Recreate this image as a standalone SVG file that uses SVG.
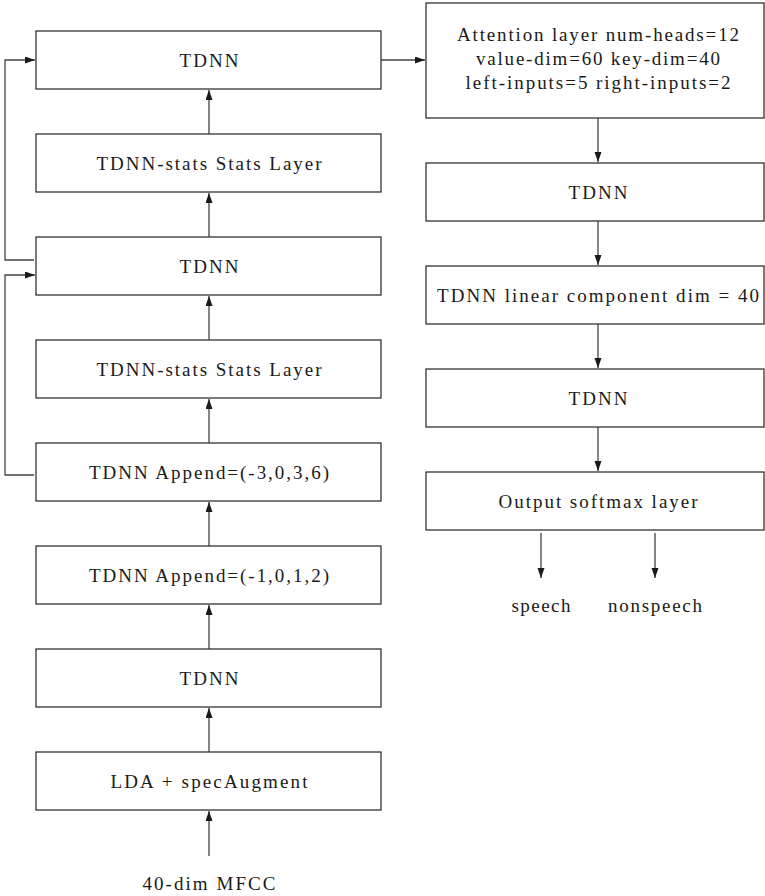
<svg xmlns="http://www.w3.org/2000/svg" width="765" height="896" viewBox="0 0 765 896">
<style>
.box{fill:#fff;stroke:#333;stroke-width:1.3}
.con{fill:none;stroke:#444;stroke-width:1.3}
text{font-family:"Liberation Serif","DejaVu Serif",serif;font-size:19px;fill:#1a1a1a;text-anchor:middle}
</style>
<defs>
<marker id="ah" markerUnits="userSpaceOnUse" markerWidth="10" markerHeight="8" refX="10" refY="3.5" orient="auto">
<path d="M0,0 L10,3.5 L0,7 z" fill="#1a1a1a"/>
</marker>
</defs>
<rect width="765" height="896" fill="#fff"/>
<g id="connectors">
<path class="con" d="M209,856 V811" marker-end="url(#ah)"/>
<path class="con" d="M209,752 V708" marker-end="url(#ah)"/>
<path class="con" d="M209,649 V605" marker-end="url(#ah)"/>
<path class="con" d="M209,546 V502" marker-end="url(#ah)"/>
<path class="con" d="M209,443 V399" marker-end="url(#ah)"/>
<path class="con" d="M209,340 V296" marker-end="url(#ah)"/>
<path class="con" d="M209,237 V193" marker-end="url(#ah)"/>
<path class="con" d="M209,134 V90" marker-end="url(#ah)"/>
<path class="con" d="M34,260 H5 V60 H35" marker-end="url(#ah)"/>
<path class="con" d="M34,475 H5 V275 H35" marker-end="url(#ah)"/>
<path class="con" d="M381,60 H425" marker-end="url(#ah)"/>
<path class="con" d="M598,118 V162" marker-end="url(#ah)"/>
<path class="con" d="M598,221 V265" marker-end="url(#ah)"/>
<path class="con" d="M598,324 V368" marker-end="url(#ah)"/>
<path class="con" d="M598,427 V471" marker-end="url(#ah)"/>
<path class="con" d="M541,533 V578" marker-end="url(#ah)"/>
<path class="con" d="M655,533 V578" marker-end="url(#ah)"/>
</g>
<g id="n_tdnn_top"><rect class="box" x="36" y="31" width="345" height="58"/><text x="209" y="67" textLength="59" lengthAdjust="spacing">TDNN</text></g>
<g id="n_stats1"><rect class="box" x="36" y="134" width="345" height="58"/><text x="209" y="170" textLength="225" lengthAdjust="spacing">TDNN-stats Stats Layer</text></g>
<g id="n_tdnn_mid"><rect class="box" x="36" y="237" width="345" height="58"/><text x="209" y="273" textLength="59" lengthAdjust="spacing">TDNN</text></g>
<g id="n_stats2"><rect class="box" x="36" y="340" width="345" height="58"/><text x="209" y="376" textLength="225" lengthAdjust="spacing">TDNN-stats Stats Layer</text></g>
<g id="n_append3"><rect class="box" x="36" y="443" width="345" height="58"/><text x="209" y="479" textLength="240" lengthAdjust="spacing">TDNN Append=(-3,0,3,6)</text></g>
<g id="n_append1"><rect class="box" x="36" y="546" width="345" height="58"/><text x="209" y="582" textLength="240" lengthAdjust="spacing">TDNN Append=(-1,0,1,2)</text></g>
<g id="n_tdnn_low"><rect class="box" x="36" y="649" width="345" height="58"/><text x="209" y="685" textLength="59" lengthAdjust="spacing">TDNN</text></g>
<g id="n_lda"><rect class="box" x="36" y="752" width="345" height="58"/><text x="209" y="788" textLength="197" lengthAdjust="spacing">LDA + specAugment</text></g>
<g id="n_input"><text x="209" y="890" textLength="133" lengthAdjust="spacing">40-dim MFCC</text></g>
<g id="n_attention"><rect class="box" x="426" y="3" width="338" height="115"/>
<text x="598" y="41" textLength="282" lengthAdjust="spacing">Attention layer num-heads=12</text>
<text x="598" y="65" textLength="244" lengthAdjust="spacing">value-dim=60 key-dim=40</text>
<text x="598" y="89" textLength="265" lengthAdjust="spacing">left-inputs=5 right-inputs=2</text></g>
<g id="n_tdnn_r1"><rect class="box" x="426" y="163" width="338" height="58"/><text x="598" y="199" textLength="59" lengthAdjust="spacing">TDNN</text></g>
<g id="n_linear"><rect class="box" x="426" y="266" width="338" height="58"/><text x="598" y="302" textLength="322" lengthAdjust="spacing">TDNN linear component dim = 40</text></g>
<g id="n_tdnn_r2"><rect class="box" x="426" y="369" width="338" height="58"/><text x="598" y="405" textLength="59" lengthAdjust="spacing">TDNN</text></g>
<g id="n_output"><rect class="box" x="426" y="472" width="338" height="58"/><text x="598" y="508" textLength="199" lengthAdjust="spacing">Output softmax layer</text></g>
<g id="n_speech"><text x="541" y="612" textLength="59" lengthAdjust="spacing">speech</text></g>
<g id="n_nonspeech"><text x="655" y="612" textLength="94" lengthAdjust="spacing">nonspeech</text></g>
</svg>
